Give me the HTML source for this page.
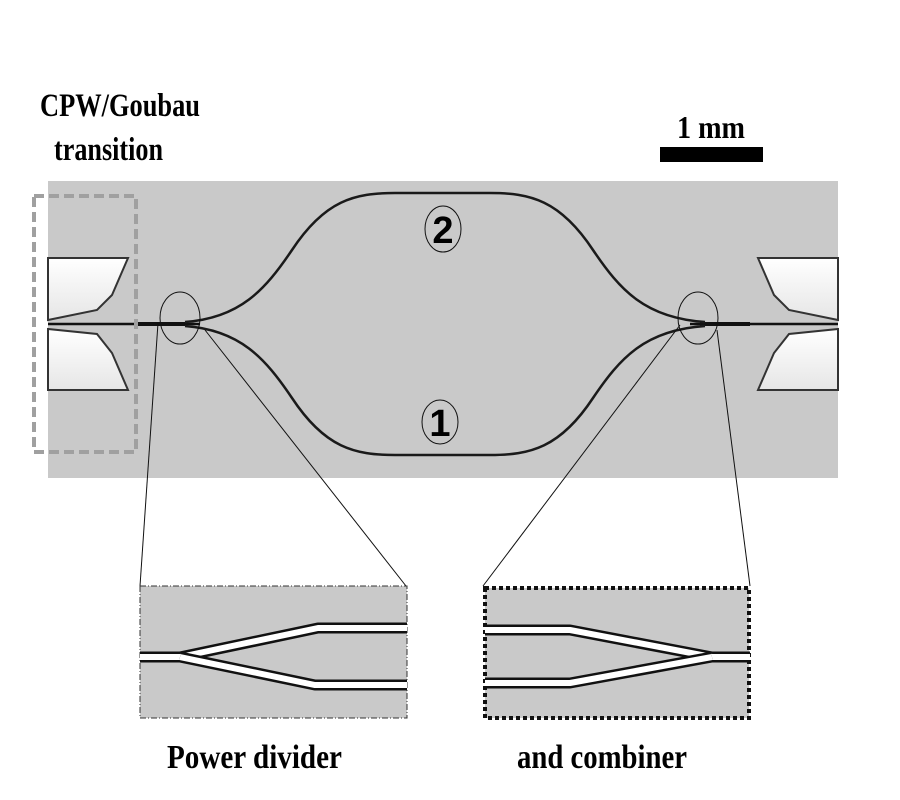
<!DOCTYPE html>
<html><head><meta charset="utf-8"><style>html,body{margin:0;padding:0;background:#fff}svg{display:block}</style></head>
<body>
<svg width="900" height="800" viewBox="0 0 900 800" xmlns="http://www.w3.org/2000/svg" font-family="Liberation Serif, serif" font-weight="bold">
<defs>
<linearGradient id="w" x1="0" y1="0" x2="0" y2="1"><stop offset="0" stop-color="#fff"/><stop offset="1" stop-color="#e6e6e6"/></linearGradient>
</defs>
<rect x="48" y="181" width="790" height="297" fill="#c9c9c9"/>
<path d="M48,258 L128,258 L112,295 L97,310 L48,320 Z" fill="url(#w)" stroke="#333" stroke-width="2"/>
<path d="M48,390 L128,390 L112,353 L97,334 L48,329 Z" fill="url(#w)" stroke="#333" stroke-width="2"/>
<path d="M838,258 L758,258 L774,295 L789,310 L838,320 Z" fill="url(#w)" stroke="#333" stroke-width="2"/>
<path d="M838,390 L758,390 L774,353 L789,334 L838,329 Z" fill="url(#w)" stroke="#333" stroke-width="2"/>
<line x1="48" y1="324" x2="200" y2="324" stroke="#111" stroke-width="2.5"/>
<line x1="138" y1="324" x2="185" y2="324" stroke="#111" stroke-width="4"/>
<line x1="690" y1="324" x2="838" y2="324" stroke="#111" stroke-width="2.5"/>
<line x1="700" y1="324" x2="750" y2="324" stroke="#111" stroke-width="4"/>
<path d="M185,322 C240,318 265,290 292,250 C325,200 355,193 395,193 L490,193 C530,193 560,200 593,250 C620,290 645,318 705,322" fill="none" stroke="#1a1a1a" stroke-width="2.5"/>
<path d="M185,326 C240,330 265,358 292,398 C325,448 355,455 395,455 L490,455 C530,455 560,448 593,398 C620,358 645,330 705,326" fill="none" stroke="#1a1a1a" stroke-width="2.5"/>
<rect x="34" y="196" width="102" height="256" fill="none" stroke="#a0a0a0" stroke-width="4" stroke-dasharray="10,5"/>
<ellipse cx="180" cy="318" rx="20" ry="26" fill="none" stroke="#111" stroke-width="1"/>
<ellipse cx="698" cy="318" rx="20" ry="26" fill="none" stroke="#111" stroke-width="1"/>
<ellipse cx="443" cy="229" rx="18" ry="23" fill="none" stroke="#111" stroke-width="1"/>
<ellipse cx="440" cy="422" rx="18" ry="22" fill="none" stroke="#111" stroke-width="1"/>
<text x="443" y="243" font-size="38" text-anchor="middle" font-family="Liberation Sans, sans-serif">2</text>
<text x="440" y="436" font-size="38" text-anchor="middle" font-family="Liberation Sans, sans-serif">1</text>
<g stroke="#111" stroke-width="1">
<line x1="158" y1="323" x2="140" y2="586"/>
<line x1="205" y1="330" x2="406" y2="586"/>
<line x1="680" y1="325" x2="483" y2="586"/>
<line x1="717" y1="330" x2="750" y2="586"/>
</g>
<rect x="140" y="586" width="267" height="132" fill="#c9c9c9" stroke="#333" stroke-width="1" stroke-dasharray="6,2,1,2"/>
<g fill="none" stroke-linejoin="bevel">
<path d="M140,657 L180,657 L318,628 L407,628" stroke="#111" stroke-width="11"/>
<path d="M140,657 L180,657 L318,628 L407,628" stroke="#fff" stroke-width="6"/>
<path d="M180,657 L315,685 L407,685" stroke="#111" stroke-width="11"/>
<path d="M180,657 L315,685 L407,685" stroke="#fff" stroke-width="6"/>
</g>
<rect x="485" y="588" width="264" height="130" fill="#c9c9c9" stroke="#111" stroke-width="4" stroke-dasharray="4,3"/>
<g fill="none" stroke-linejoin="bevel">
<path d="M485,630 L570,630 L712,657 L750,657" stroke="#111" stroke-width="11"/>
<path d="M485,630 L570,630 L712,657 L750,657" stroke="#fff" stroke-width="6"/>
<path d="M485,683 L570,683 L712,657" stroke="#111" stroke-width="11"/>
<path d="M485,683 L570,683 L712,657" stroke="#fff" stroke-width="6"/>
</g>
<rect x="660" y="147" width="103" height="15" fill="#000"/>
<text x="677" y="138" font-size="32" textLength="68" lengthAdjust="spacingAndGlyphs">1 mm</text>
<text x="40" y="116" font-size="33" textLength="160" lengthAdjust="spacingAndGlyphs">CPW/Goubau</text>
<text x="54" y="160" font-size="33" textLength="109" lengthAdjust="spacingAndGlyphs">transition</text>
<text x="167" y="768" font-size="34" textLength="175" lengthAdjust="spacingAndGlyphs">Power divider</text>
<text x="517" y="768" font-size="34" textLength="170" lengthAdjust="spacingAndGlyphs">and combiner</text>
</svg>
</body></html>
